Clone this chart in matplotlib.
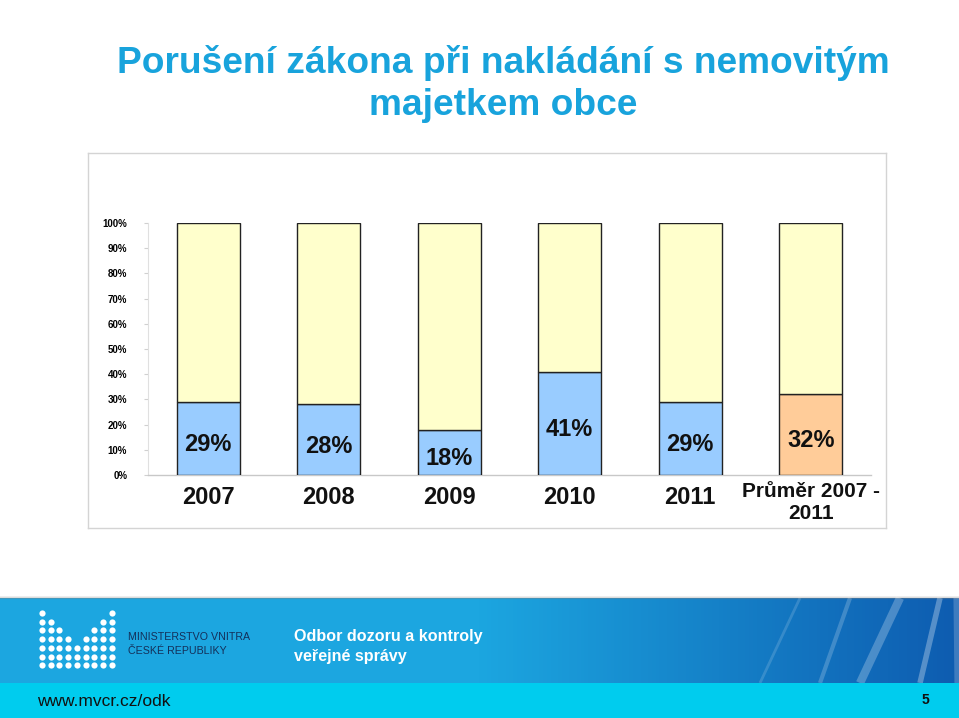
import matplotlib
matplotlib.use("Agg")
import matplotlib.pyplot as plt
import matplotlib.transforms as mtransforms
from matplotlib.patches import Rectangle
import numpy as np

# ---- data ----
categories = ["2007", "2008", "2009", "2010", "2011", "Průměr 2007 -\n2011"]
violations = [29, 28, 18, 41, 29, 32]          # % (lower segment)
rest = [100 - v for v in violations]            # % (upper segment)
ytick_vals = [0, 10, 20, 30, 40, 50, 60, 70, 80, 90, 100]
ytick_labels = [f"{v}%" for v in ytick_vals]

title = "Porušení zákona při nakládání s nemovitým\nmajetkem obce"

W, H = 959, 718
fig = plt.figure(figsize=(W / 100, H / 100), dpi=100)
fig.patch.set_facecolor("white")

FONT = ["Liberation Sans", "DejaVu Sans"]
TITLE_FONT = ["Liberation Sans Narrow", "Liberation Sans", "DejaVu Sans"]

def fx(px):
    return px / W

def fy(py):
    return 1 - py / H

# chart frame (background axes)
bg = fig.add_axes([fx(88), fy(528), fx(886) - fx(88), fy(153) - fy(528)], zorder=0)
bg.set_xticks([])
bg.set_yticks([])
bg.set_facecolor("white")
for s in bg.spines.values():
    s.set_color("#d4d4d4")
    s.set_linewidth(1.0)

# title
fig.text(fx(503), fy(84), title, ha="center", va="center", color="#18A3DC",
         fontsize=26.7, fontweight="bold", family=TITLE_FONT, linespacing=1.28)

# ---- main axes ----
ax = fig.add_axes([fx(148), fy(475), fx(871) - fx(148), fy(223) - fy(475)], zorder=2)
ax.set_facecolor("none")
x = np.arange(len(categories))
colors_low = ["#99CCFF"] * 5 + ["#FFCC99"]
ax.bar(x, violations, width=0.52, color=colors_low, edgecolor="#222222", linewidth=1.0, zorder=3)
ax.bar(x, rest, bottom=violations, width=0.52, color="#FFFFCC", edgecolor="#222222",
       linewidth=1.0, zorder=3)

ax.set_xlim(-0.5, 5.5)
ax.set_ylim(0, 100)
ax.set_yticks(ytick_vals)
ax.set_yticklabels(ytick_labels, fontsize=7, fontweight="bold", family=FONT)
ax.tick_params(axis="y", length=3, color="#d0d0d0", pad=12)
ax.set_xticks([])
for s in ["top", "right"]:
    ax.spines[s].set_visible(False)
ax.spines["left"].set_color("#e0e0e0")
ax.spines["bottom"].set_color("#c8c8c8")
ax.spines["bottom"].set_linewidth(1.0)

for i, v in enumerate(violations):
    ax.text(i, v / 2 - 2.5, f"{v}%", ha="center", va="center", fontsize=17,
            fontweight="bold", family=FONT, color="#111111", zorder=4)

trans = mtransforms.blended_transform_factory(ax.transData, ax.transAxes)
for i, c in enumerate(categories):
    if "\n" not in c:
        ax.text(i, -0.088, c, transform=trans, ha="center", va="center", fontsize=17,
                fontweight="bold", family=FONT, color="#111111")
    else:
        ax.text(i, -0.109, c, transform=trans, ha="center", va="center", fontsize=15,
                fontweight="bold", family=FONT, color="#111111", linespacing=1.2)

# ---- footer banner ----
fax = fig.add_axes([0, 0, 1, 122 / H], zorder=3)
fax.set_xlim(0, W)
fax.set_ylim(0, 122)
fax.axis("off")
grad = np.linspace(0, 1, 256)
c1 = np.array([0x1c, 0xa6, 0xe0]) / 255
c2 = np.array([0x0e, 0x5c, 0xb0]) / 255
g = np.clip((grad - 0.5) / 0.5, 0, 1)
img = (c1[None, :] * (1 - g[:, None]) + c2[None, :] * g[:, None])[None, :, :]
fax.imshow(img, extent=[0, W, 35, 120], aspect="auto", zorder=1)
for k, a in enumerate([0.35, 0.2, 0.1]):
    fax.plot([0, W], [120 + k * 0.8, 120 + k * 0.8], color="#808080", alpha=a, lw=1, zorder=2)
for (x0, x1), lw, al in [((800, 900), 6, 0.25), ((860, 940), 4, 0.3), ((760, 850), 3, 0.2),
                         ((900, 959), 8, 0.2), ((700, 800), 2, 0.15)]:
    fax.plot([x1, x0 + 60], [120, 35], color="white", lw=lw, alpha=al, zorder=2,
             solid_capstyle="butt")
fax.add_patch(Rectangle((0, 0), W, 35, facecolor="#00CCEE", edgecolor="none", zorder=3))

rows = [[0, 8], [0, 1, 7, 8], [0, 1, 2, 6, 7, 8], [0, 1, 2, 3, 5, 6, 7, 8],
        list(range(9)), list(range(9)), list(range(9))]
xs, ys = [], []
for r, cols in enumerate(rows):
    for c in cols:
        xs.append(42 + c * 8.7)
        ys.append(H - (613 + r * 8.7))
fax.scatter(xs, ys, s=20, color="white", zorder=4, linewidths=0)

fax.text(128, H - 637, "MINISTERSTVO VNITRA", fontsize=7.7, color="#14305a",
         va="center", ha="left", family=FONT, zorder=4)
fax.text(128, H - 651, "ČESKÉ REPUBLIKY", fontsize=7.7, color="#14305a",
         va="center", ha="left", family=FONT, zorder=4)
fax.text(294, H - 637, "Odbor dozoru a kontroly", fontsize=11.6, color="white",
         fontweight="bold", va="center", ha="left", family=FONT, zorder=4)
fax.text(294, H - 657, "veřejné správy", fontsize=11.6, color="white",
         fontweight="bold", va="center", ha="left", family=FONT, zorder=4)
fax.text(37, H - 702, "www.mvcr.cz/odk", fontsize=12.5, color="#111111",
         va="center", ha="left", family=FONT, zorder=4)
fax.text(925, H - 700, "5", fontsize=10, color="#111111", fontweight="bold",
         va="center", ha="center", family=FONT, zorder=4)

fig.savefig("out.png", dpi=100)
